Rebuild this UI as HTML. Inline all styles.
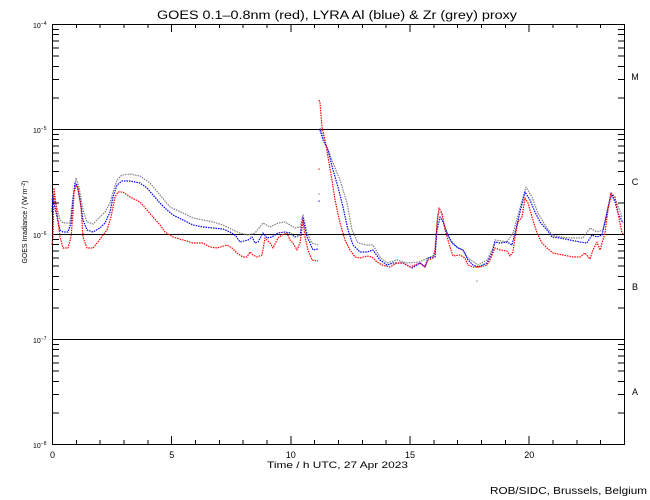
<!DOCTYPE html>
<html><head><meta charset="utf-8"><style>
html,body{margin:0;padding:0;background:#fff;}
svg{display:block;}
text{font-family:"Liberation Sans",sans-serif;fill:#000;}
</style></head><body>
<svg width="650" height="500" viewBox="0 0 650 500" xmlns="http://www.w3.org/2000/svg">
<rect x="0" y="0" width="650" height="500" fill="#fff"/>
<text x="337" y="19" font-size="11.5" text-anchor="middle" textLength="360" lengthAdjust="spacingAndGlyphs">GOES 0.1–0.8nm (red), LYRA Al (blue) &amp; Zr (grey) proxy</text>

<g stroke="#000" stroke-width="1" fill="none" shape-rendering="crispEdges">
<rect x="52.5" y="24.5" width="572" height="420"/>
<line x1="52" y1="129.5" x2="625" y2="129.5"/>
<line x1="52" y1="234.5" x2="625" y2="234.5"/>
<line x1="52" y1="339.5" x2="625" y2="339.5"/>
<path id="yt" d=""/>
</g>
<g stroke="#000" stroke-width="1" shape-rendering="crispEdges" id="ticks"></g>

<g font-size="7">
<text x="33" y="28">10<tspan dy="-3" font-size="5">−4</tspan></text>
<text x="33" y="133">10<tspan dy="-3" font-size="5">−5</tspan></text>
<text x="33" y="238">10<tspan dy="-3" font-size="5">−6</tspan></text>
<text x="33" y="343">10<tspan dy="-3" font-size="5">−7</tspan></text>
<text x="33" y="448">10<tspan dy="-3" font-size="5">−8</tspan></text>
</g>
<text transform="translate(27,222) rotate(-90)" font-size="7" text-anchor="middle" textLength="83" lengthAdjust="spacingAndGlyphs">GOES Irradiance / (W m<tspan dy="-2" font-size="5">−2</tspan><tspan dy="2">)</tspan></text>

<g font-size="9" text-anchor="middle">
<text x="52.5" y="458">0</text>
<text x="171.7" y="458">5</text>
<text x="290.8" y="458">10</text>
<text x="410" y="458">15</text>
<text x="529.2" y="458">20</text>
</g>
<text x="337.5" y="468" font-size="9.5" text-anchor="middle" textLength="141" lengthAdjust="spacingAndGlyphs">Time / h UTC, 27 Apr 2023</text>
<text x="490" y="494" font-size="10" textLength="157" lengthAdjust="spacingAndGlyphs">ROB/SIDC, Brussels, Belgium</text>

<g font-size="9" text-anchor="middle">
<text x="635" y="80">M</text>
<text x="635" y="185">C</text>
<text x="635" y="290">B</text>
<text x="635" y="395">A</text>
</g>

<g fill="none" stroke-width="1.2" stroke-dasharray="1.5 1" stroke-linejoin="round">
<polyline stroke="#808080" points="52,200 53,193 57,208 60,220 63,223 70,223 73,197 76,178 79,187 83,210 87,222 93,224 100,217 105,212 110,203 113,192 117,180 122,175 130,174 140,176 150,183 160,195 170,207 183,213 193,218 203,220 213,222 223,225 233,230 240,233 248,235 255,233 263,223 270,227 278,223 285,222 290,225 295,228 300,227 303,215 307,233 312,243 318,245"/>
<polyline stroke="#808080" points="320,128 327,147 333,163 340,180 347,203 352,230 358,243 367,245 373,245 380,257 387,263 397,260 407,263 419,262 428,258 435,255 438,213 441,212 445,227 450,240 457,247 463,250 468,258 478,265 487,260 493,248 495,240 502,241 507,242 513,233 520,208 526,187 532,197 538,213 545,225 552,235 560,237 570,238 583,238 590,228 597,232 603,230 608,207 612,195 617,203 622,217"/>
<polyline stroke="#0000ff" points="52,212 53,195 54,203 57,217 60,230 63,232 68,232 71,223 73,200 75,183 77,185 80,200 83,220 87,230 93,232 100,228 105,223 110,212 113,197 117,185 122,181 130,181 140,183 147,188 153,195 160,203 167,210 173,215 183,220 193,225 203,227 213,228 223,229 230,232 236,236 240,242 248,240 252,237 255,243 258,242 263,233 267,238 272,237 278,233 285,232 290,233 295,237 300,235 303,218 307,237 310,243 313,250 318,249"/>
<polyline stroke="#0000ff" points="320,130 323,140 328,150 333,170 338,187 343,207 348,230 353,245 360,252 367,252 373,250 380,260 387,265 393,263 403,263 412,268 420,263 425,267 428,258 435,257 437,230 440,217 443,222 447,233 452,243 458,248 463,250 468,260 473,265 478,267 487,263 492,253 495,242 500,243 507,242 512,245 515,233 520,212 525,192 530,200 535,212 540,222 547,230 552,237 560,238 570,240 580,242 587,243 592,235 597,237 602,235 607,213 611,193 615,202 618,213 623,223"/>
<polyline stroke="#ff0000" points="52,245 53,237 54,188 57,213 60,237 63,248 68,248 71,237 73,213 74,193 76,185 78,188 81,207 83,237 87,248 93,248 98,242 103,235 107,230 111,217 115,197 118,192 123,192 130,197 140,202 147,210 153,217 160,225 165,232 173,237 183,240 193,243 203,243 210,247 217,248 227,245 232,248 237,253 243,257 247,257 250,252 253,255 257,257 262,255 265,238 270,243 273,248 278,238 282,235 287,233 290,240 293,243 297,250 300,243 303,220 305,237 308,250 312,260 318,261"/>
<polyline stroke="#ff0000" points="319,100 320,103 322,127 325,140 328,157 332,180 335,200 340,223 345,240 350,250 355,257 360,258 367,256 372,257 377,262 382,265 390,267 397,263 403,263 410,267 420,263 425,267 428,260 433,258 435,250 437,223 439,208 442,213 445,230 450,247 453,256 460,255 465,258 468,265 473,267 480,267 487,265 490,260 495,248 500,250 507,251 510,256 513,252 515,237 518,222 522,217 525,198 528,203 532,217 537,233 542,243 547,248 553,253 563,255 573,257 580,257 585,253 590,259 593,250 597,242 600,250 605,233 608,210 611,193 615,197 618,213 622,233 624,235"/>
</g>
<g>
<rect x="318.5" y="168.5" width="1.2" height="1.2" fill="#ff0000"/>
<rect x="318.5" y="193.5" width="1.2" height="1.2" fill="#808080"/>
<rect x="318.5" y="200.5" width="1.2" height="1.2" fill="#0000ff"/>
<rect x="476.5" y="280.5" width="1.2" height="1.2" fill="#808080"/>
</g>

<g stroke="#000" stroke-width="1" shape-rendering="crispEdges">
<!-- x ticks -->
<path d="M52.5 444V436M52.5 24V32
M76.3 444V440M76.3 24V28
M100.2 444V440M100.2 24V28
M124 444V440M124 24V28
M147.8 444V440M147.8 24V28
M171.7 444V436M171.7 24V32
M195.5 444V440M195.5 24V28
M219.3 444V440M219.3 24V28
M243.2 444V440M243.2 24V28
M267 444V440M267 24V28
M290.8 444V436M290.8 24V32
M314.7 444V440M314.7 24V28
M338.5 444V440M338.5 24V28
M362.3 444V440M362.3 24V28
M386.2 444V440M386.2 24V28
M410 444V436M410 24V32
M433.8 444V440M433.8 24V28
M457.7 444V440M457.7 24V28
M481.5 444V440M481.5 24V28
M505.3 444V440M505.3 24V28
M529.2 444V436M529.2 24V32
M553 444V440M553 24V28
M576.8 444V440M576.8 24V28
M600.7 444V440M600.7 24V28"/>
<!-- y minor ticks: for decades bottoms 129,234,339,444 -->
<path d="
M52 97.9H59M52 79.4H59M52 66.3H59M52 56.1H59M52 47.8H59M52 40.8H59M52 34.7H59M52 29.3H59
M52 202.9H59M52 184.4H59M52 171.3H59M52 161.1H59M52 152.8H59M52 145.8H59M52 139.7H59M52 134.3H59
M52 307.9H59M52 289.4H59M52 276.3H59M52 266.1H59M52 257.8H59M52 250.8H59M52 244.7H59M52 239.3H59
M52 412.9H59M52 394.4H59M52 381.3H59M52 371.1H59M52 362.8H59M52 355.8H59M52 349.7H59M52 344.3H59
M618 97.9H625M618 79.4H625M618 66.3H625M618 56.1H625M618 47.8H625M618 40.8H625M618 34.7H625M618 29.3H625
M618 202.9H625M618 184.4H625M618 171.3H625M618 161.1H625M618 152.8H625M618 145.8H625M618 139.7H625M618 134.3H625
M618 307.9H625M618 289.4H625M618 276.3H625M618 266.1H625M618 257.8H625M618 250.8H625M618 244.7H625M618 239.3H625
M618 412.9H625M618 394.4H625M618 381.3H625M618 371.1H625M618 362.8H625M618 355.8H625M618 349.7H625M618 344.3H625"/>
</g>
</svg>
</body></html>
